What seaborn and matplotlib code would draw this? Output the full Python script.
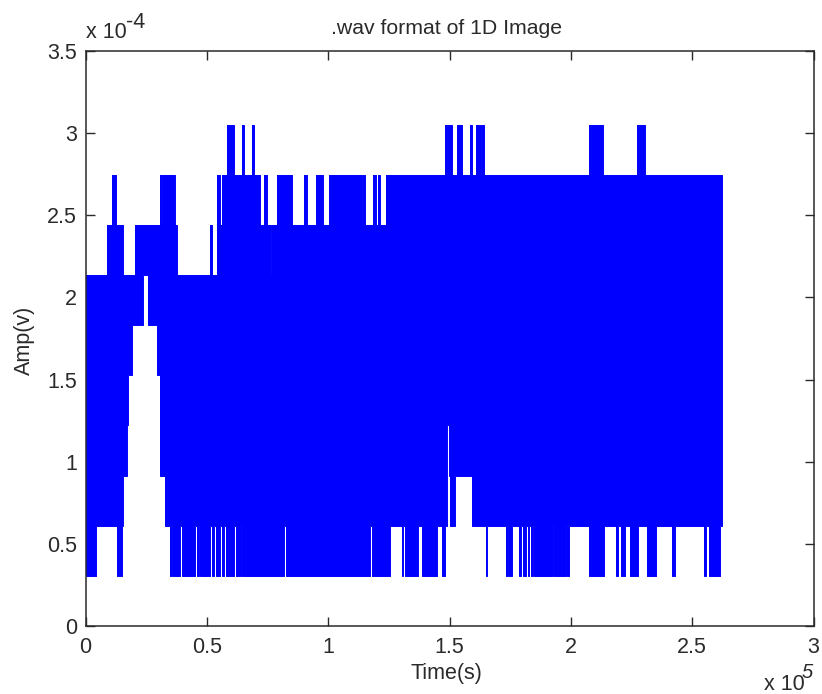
import numpy as np
import matplotlib
matplotlib.use("Agg")
import matplotlib.pyplot as plt
import seaborn as sns

TITLE = ".wav format of 1D Image"
XLABEL = "Time(s)"
YLABEL = "Amp(v)"
XTICKS = [0, 0.5, 1, 1.5, 2, 2.5, 3]
XTICK_LABELS = ["0", "0.5", "1", "1.5", "2", "2.5", "3"]
YTICKS = [0, 0.5, 1, 1.5, 2, 2.5, 3, 3.5]
YTICK_LABELS = ["0", "0.5", "1", "1.5", "2", "2.5", "3", "3.5"]
SAMPLE_STEP = 0.30518  # amplitude quantisation, in units of 1e-4
END = 2.622

# time (x 1e5) where the top envelope changes, and its level afterwards
upper_t = [0, 0.0873, 0.108, 0.1257, 0.1558, 0.204, 0.307, 0.314, 0.3207, 0.3688,
           0.3758, 0.5143, 0.5213, 0.5431, 0.5555, 0.5613, 0.5843, 0.6107, 0.6461, 0.6544,
           0.6861, 0.6944, 0.7203, 0.7356, 0.7492, 0.7644, 0.7698, 0.7904, 0.8522, 0.9016,
           0.914, 0.9499, 0.9775, 1.0047, 1.1382, 1.1423, 1.1518, 1.186, 1.1971, 1.2041,
           1.2123, 1.2395, 1.4827, 1.5103, 1.5309, 1.5515, 1.5857, 1.594, 1.608, 1.6285,
           1.6327, 1.6409, 2.0761, 2.1338, 2.2714, 2.3056]
upper_level = [7, 8, 9, 8, 7, 8, 9, 8, 9, 8,
               7, 8, 7, 9, 8, 9, 10, 9, 10, 9,
               10, 9, 8, 9, 8, 7, 8, 9, 8, 9,
               8, 9, 8, 9, 8, 9, 8, 9, 8, 9,
               8, 9, 10, 9, 10, 9, 10, 9, 10, 9,
               10, 9, 10, 9, 10, 9]

# time (x 1e5) where the bottom envelope changes, and its level afterwards
lower_t = [0, 0.0433, 0.1286, 0.1492, 0.1558, 0.1698, 0.1764, 0.1904, 0.2382, 0.2588,
           0.2934, 0.307, 0.3276, 0.3482, 0.3565, 0.3618, 0.3894, 0.3964, 0.4512, 0.4582,
           0.4665, 0.4731, 0.5143, 0.5213, 0.5295, 0.5365, 0.5543, 0.5625, 0.5707, 0.5777,
           0.6107, 0.619, 0.6396, 0.6461, 0.8192, 0.8262, 1.1724, 1.1794, 1.2548, 1.303,
           1.3084, 1.3166, 1.3714, 1.3854, 1.4497, 1.4678, 1.4827, 1.491, 1.4967, 1.5033,
           1.5239, 1.5915, 1.6504, 1.6558, 1.7328, 1.7398, 1.7464, 1.7588, 1.7864, 1.7946,
           1.8029, 1.814, 1.8222, 1.8276, 1.8358, 1.8453, 1.8494, 1.9252, 1.9318, 1.98,
           1.9854, 1.9936, 2.0761, 2.1379, 2.1873, 2.1956, 2.208, 2.2232, 2.2438, 2.278,
           2.3126, 2.3522, 2.4157, 2.4305, 2.5475, 2.5557, 2.5681, 2.6159]
lower_level = [1, 2, 1, 2, 3, 4, 5, 6, 7, 6,
               5, 3, 2, 1, 2, 1, 2, 1, 2, 1,
               2, 1, 2, 1, 2, 1, 2, 1, 2, 1,
               2, 1, 2, 1, 2, 1, 2, 1, 2, 1,
               2, 1, 2, 1, 2, 1, 2, 4, 3, 2,
               3, 2, 1, 2, 1, 2, 1, 2, 1, 2,
               1, 2, 1, 2, 1, 2, 1, 2, 1, 2,
               1, 2, 1, 2, 1, 2, 1, 2, 1, 2,
               1, 2, 1, 2, 1, 2, 1, 2]

sns.set_theme(style="white")
plt.rcParams["font.family"] = ["Liberation Sans", "DejaVu Sans"]
BLUE = "#0000ff"
INK = "#2a2a2a"

fig = plt.figure(figsize=(8.22, 6.94), dpi=100, facecolor="white")
ax = fig.add_axes([85.5 / 822, 1 - 626 / 694, 728 / 822, 575 / 694])

t_up = np.array(upper_t + [END])
v_up = np.array(upper_level + [upper_level[-1]]) * SAMPLE_STEP
t_lo = np.array(lower_t + [END])
v_lo = np.array(lower_level + [lower_level[-1]]) * SAMPLE_STEP

grid = np.union1d(t_up, t_lo)
hi = v_up[np.clip(np.searchsorted(t_up, grid, side="right") - 1, 0, len(v_up) - 1)]
lo = v_lo[np.clip(np.searchsorted(t_lo, grid, side="right") - 1, 0, len(v_lo) - 1)]
ax.fill_between(grid, lo, hi, step="post", color=BLUE, linewidth=0)
for tt, vv in ((t_up, v_up), (t_lo, v_lo)):
    sns.lineplot(x=tt, y=vv, ax=ax, color=BLUE, linewidth=0.7, estimator=None,
                 sort=False, drawstyle="steps-post", legend=False)
ax.vlines(END, SAMPLE_STEP * 2, SAMPLE_STEP * 9, color=BLUE, linewidth=0.7)

ax.set_xlim(0, 3)
ax.set_ylim(0, 3.5)
ax.set_xticks(XTICKS, XTICK_LABELS)
ax.set_yticks(YTICKS, YTICK_LABELS)
ax.tick_params(axis="both", direction="in", length=6.5, width=1, color=INK,
               labelsize=15.5, labelcolor=INK, left=True, bottom=True, top=True, right=True)
ax.tick_params(axis="x", pad=8)
ax.tick_params(axis="y", pad=6)
for s in ax.spines.values():
    s.set_visible(True)
    s.set_color(INK)
    s.set_linewidth(1.1)

fs = 15.5
fig.text(447 / 822, 1 - 29 / 694, TITLE, ha="center", va="center", fontsize=15.3, color=INK)
fig.text(446 / 822, 1 - 674 / 694, XLABEL, ha="center", va="center", fontsize=fs, color=INK)
fig.text(24 / 822, 1 - 340 / 694, YLABEL, ha="center", va="center", rotation=90, fontsize=fs, color=INK)
fig.text(86 / 822, 1 - 33 / 694, "x 10", ha="left", va="center", fontsize=fs, color=INK)
fig.text(126 / 822, 1 - 22 / 694, "-4", ha="left", va="center", fontsize=fs, color=INK)
fig.text(764 / 822, 1 - 685 / 694, "x 10", ha="left", va="center", fontsize=fs, color=INK)
fig.text(802 / 822, 1 - 672 / 694, "5", ha="left", va="center", fontsize=fs - 1, color=INK, style="italic")

fig.savefig("out.png", dpi=100, facecolor="white")
